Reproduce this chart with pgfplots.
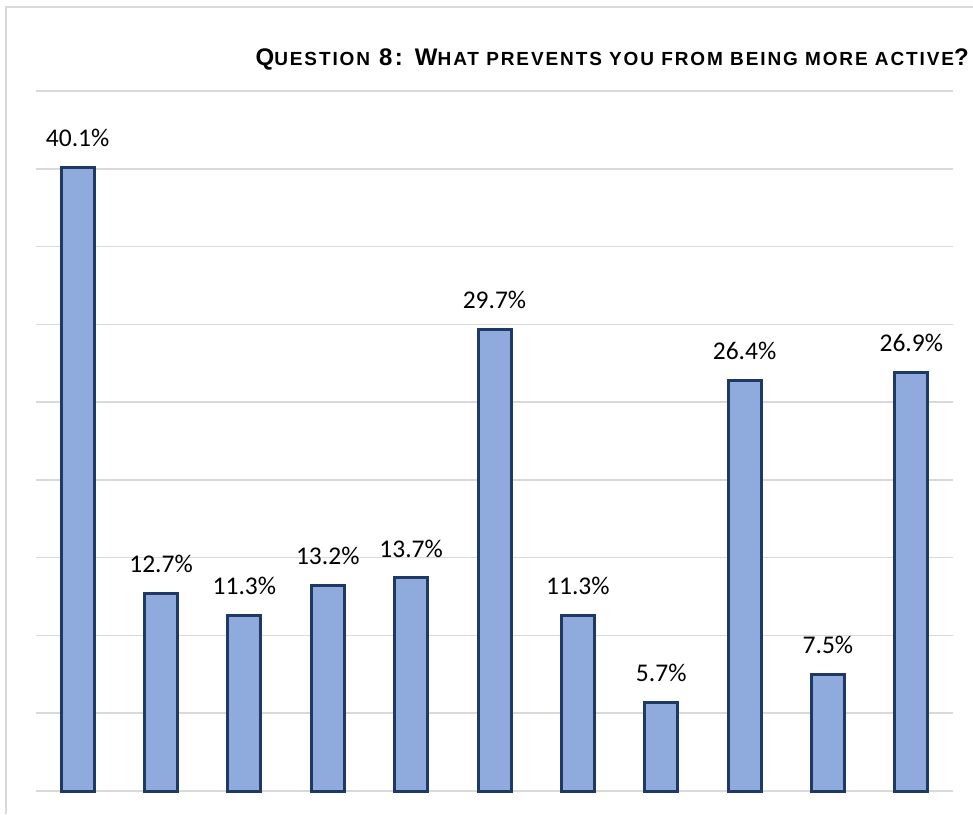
\documentclass[border=0pt]{standalone}
\usepackage{pgfplots}
\pgfplotsset{compat=1.18}
\usepackage{fontspec}
\setmainfont{Carlito}
\newfontfamily\titlefont{Liberation Sans}[LetterSpace=10]
\definecolor{barfill}{HTML}{8FAADC}
\definecolor{baredge}{HTML}{203864}
\definecolor{gridgray}{HTML}{D9D9D9}
% small-caps style heading: big initials, reduced capitals
\newcommand{\bigc}[1]{{\fontsize{24}{28}\selectfont #1}}
\newcommand{\smc}[1]{{\fontsize{19}{23}\selectfont #1}}
\begin{document}
\begin{tikzpicture}
\begin{axis}[
  scale only axis,
  width=917pt, height=700pt,
  xmin=-0.5, xmax=10.5,
  ymin=0, ymax=45,
  xtick=\empty,
  ytick={0,5,...,45},
  yticklabels={},
  ymajorgrids,
  grid style={gridgray, line width=1.5pt},
  axis line style={draw=none},
  tick style={draw=none},
  clip=false,
  ybar,
  bar width=33pt,
  nodes near coords={\pgfmathprintnumber[assume math mode=true,fixed,fixed zerofill,precision=1]{\pgfplotspointmeta}\%},
  every node near coord/.append style={anchor=south, inner sep=0pt, yshift=19pt,
    font=\fontsize{25.5}{30}\selectfont, text=black},
]
\addplot[fill=barfill, draw=baredge, line width=3pt] coordinates {
  (0,40.1) (1,12.7) (2,11.3) (3,13.2) (4,13.7) (5,29.7)
  (6,11.3) (7,5.7) (8,26.4) (9,7.5) (10,26.9)
};
\end{axis}
% chart frame (left and top edges)
\draw[gridgray, line width=1.5pt] (-30pt,-23pt) -- (-30pt,784pt) -- (937pt,784pt);
% heading
\node[anchor=base east, inner sep=0pt] at (933pt,725pt)
  {\titlefont\bfseries \bigc{Q}\smc{UESTION}\bigc{ 8: W}\smc{HAT PREVENTS YOU FROM BEING MORE ACTIVE}\bigc{?}};
\pgfresetboundingbox
\path[use as bounding box] (-36pt,-23pt) rectangle (937pt,791pt);
\end{tikzpicture}
\end{document}
